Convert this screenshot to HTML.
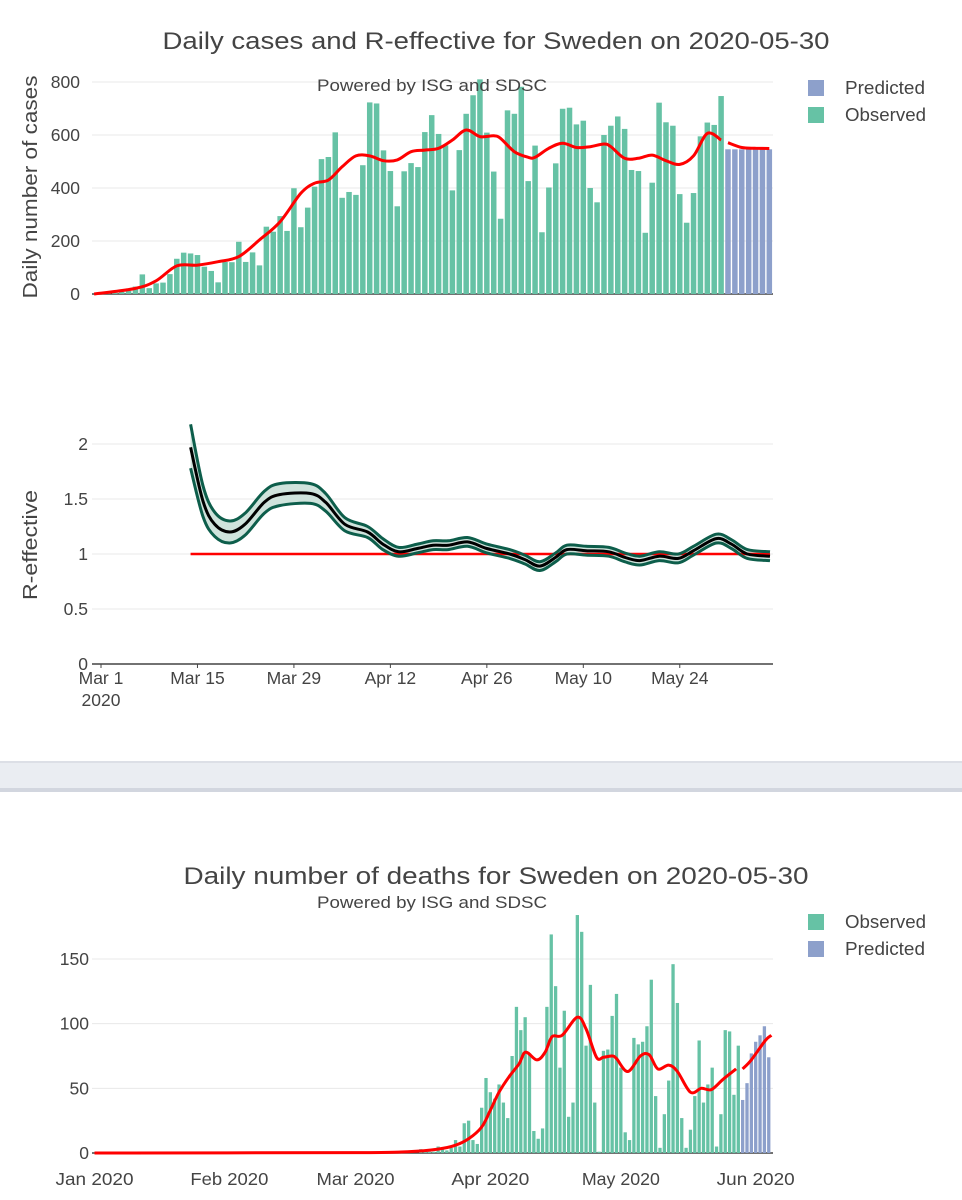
<!DOCTYPE html>
<html><head><meta charset="utf-8"><style>
html,body{margin:0;padding:0;background:#fff;}
svg{display:block;font-family:"Liberation Sans",sans-serif;}
</style></head><body>
<svg id="root" width="962" height="1200" viewBox="0 0 962 1200">
<g id="g-cases"></g>
<g id="g-r"></g>
<g>
<rect x="0" y="761" width="962" height="31" fill="#eaedf2"/>
<rect x="0" y="761" width="962" height="2" fill="#dcdfe6"/>
<rect x="0" y="788" width="962" height="4" fill="#d2d6df"/>
</g>
<g id="g-deaths"></g>
</svg>
<script>
// ---- Cases chart data (day index 0 = 2020-03-01) ----
const caseObserved = [1,2,5,8,12,28,74,22,40,43,75,133,156,153,147,103,87,44,121,120,197,121,157,108,254,235,294,238,399,252,326,405,509,517,610,363,385,374,486,723,719,542,464,331,463,494,479,611,675,604,561,391,543,680,750,810,609,462,284,693,680,782,426,560,233,402,493,699,703,640,654,400,346,600,635,670,623,468,464,231,420,722,648,635,377,269,381,595,647,638,747];
const casePredicted = [546,546,546,546,546,546,546];
const casePredStart = 91;
const caseLineDays = [-1,5,8,11,14,17,20,23,26,29,31,33,35,37,39,41,43,45,47,49,51,53,55,57,58,60,62,63,65,67,69,71,73,74,76,78,80,82,84,86,88,90];
const caseLineVals = [0,21,50,106,109,122,141,204,273,380,418,430,480,521,521,503,506,537,543,550,581,619,594,597,587,537,516,516,550,569,553,556,566,556,512,512,524,503,489,521,606,581];
const casePredLineDays = [91,93,95,97];
const casePredLineVals = [571,553,550,549];
const caseYTicks = [0,200,400,600,800];
// ---- R-effective data ----
const rDays = [13,14.8,16.5,18.7,20.9,23.7,25.9,30.4,32.6,35.4,38.7,40.9,43.2,45.9,48.2,50.4,53.2,56,59.3,61.5,63.7,66,67.6,70.4,73.7,76,78.2,81,83.8,86,89.3,91.5,93.8,97.1];
const rMean = [1.97,1.48,1.27,1.20,1.27,1.47,1.54,1.55,1.47,1.27,1.20,1.09,1.02,1.05,1.08,1.08,1.11,1.05,1.0,0.95,0.89,0.97,1.04,1.03,1.02,0.97,0.94,0.98,0.96,1.03,1.14,1.09,1.0,0.98];
const rHalfWidth = [0.19,0.14,0.11,0.1,0.1,0.1,0.1,0.09,0.08,0.06,0.05,0.05,0.04,0.04,0.04,0.04,0.04,0.04,0.04,0.04,0.04,0.04,0.04,0.04,0.04,0.04,0.04,0.04,0.04,0.04,0.04,0.04,0.04,0.04];
const rYTicks = [0,0.5,1,1.5,2];
const rXTickDays = [0,14,28,42,56,70,84];
const rXTickLabels = ["Mar 1","Mar 15","Mar 29","Apr 12","Apr 26","May 10","May 24"];
// ---- Deaths data (day index 0 = 2020-01-01) ----
const deathStart = 75;
const deathObserved = [3,1,1,1,5,3,2,4,10,5,23,25,10,7,35,58,47,42,53,39,27,75,113,95,105,77,17,11,19,113,169,129,66,110,28,39,184,171,83,130,39,1,79,80,106,123,66,16,10,89,84,86,98,134,44,4,30,56,146,116,27,4,18,44,87,39,53,66,5,30,95,94,45,83];
const deathPredStart = 149;
const deathPredicted = [41,54,77,86,91,98,74];
const deathLineDays = [0,60,72,79,83,86,89,91,93,95.3,97.6,99.1,101.7,103.6,105.2,107.5,111,113,115.4,117,119,120,122.6,125.5,127.5,129.5,132,134,137,139.5,141.8,144.5,147.5];
const deathLineVals = [0,0.3,1,3,6,11,20,33,47,59,69,78,72,78,90,91,105,96,74,74,75,73,63,75,76,65,68,63,47,50,49,57,65];
const deathPredLineDays = [149,151,154.2,155.6];
const deathPredLineVals = [65,72,87,91];
const deathYTicks = [0,50,100,150];
const deathXTickDays = [0,31,60,91,121,152];
const deathXTickLabels = ["Jan 2020","Feb 2020","Mar 2020","Apr 2020","May 2020","Jun 2020"];

const NS = "http://www.w3.org/2000/svg";
const GREEN = "#66c2a5", BLUE = "#8da0cb", TXT = "#444";
const TICK = "17.5", LEG = "18.5";
function mk(parent, tag, attrs, text){
  const e = document.createElementNS(NS, tag);
  for (const k in attrs) e.setAttribute(k, attrs[k]);
  if (text !== undefined) e.textContent = text;
  parent.appendChild(e);
  return e;
}
function spline(pts){
  if (pts.length < 2) return "";
  let d = "M" + pts[0][0].toFixed(1) + "," + pts[0][1].toFixed(1);
  for (let i = 0; i < pts.length - 1; i++){
    const p0 = pts[i-1] || pts[i], p1 = pts[i], p2 = pts[i+1], p3 = pts[i+2] || p2;
    const c1x = p1[0] + (p2[0]-p0[0])/6, c1y = p1[1] + (p2[1]-p0[1])/6;
    const c2x = p2[0] - (p3[0]-p1[0])/6, c2y = p2[1] - (p3[1]-p1[1])/6;
    d += " C" + c1x.toFixed(1)+","+c1y.toFixed(1)+" "+c2x.toFixed(1)+","+c2y.toFixed(1)+" "+p2[0].toFixed(1)+","+p2[1].toFixed(1);
  }
  return d;
}

// ================= Cases chart =================
(function(){
  const g = document.getElementById("g-cases");
  const x = d => 101 + 6.89*d;
  const y = v => 294 - v*(212/800);
  let t;
  t = mk(g,"text",{x:496,y:49,"text-anchor":"middle","font-size":"24",fill:TXT,textLength:667,lengthAdjust:"spacingAndGlyphs"});
  t.textContent = "Daily cases and R-effective for Sweden on 2020-05-30";
  
  
  caseYTicks.forEach(v=>{
    const l = mk(g,"line",{x1:92,x2:773,y1:y(v),y2:y(v),stroke:v===0?"#444":"#e8e8e8","stroke-width":v===0?1.5:1});
    
    
    const tl = mk(g,"text",{x:80,y:y(v)+6,"text-anchor":"end","font-size":TICK,fill:TXT},String(v));
    
    
  });
  t = mk(g,"text",{x:0,y:0,transform:"translate(37,187) rotate(-90)","text-anchor":"middle","font-size":"20",fill:TXT,textLength:223,lengthAdjust:"spacingAndGlyphs"},"Daily number of cases");
  
  
  const bw = 5.5;
  caseObserved.forEach((v,i)=>{
    const r = mk(g,"rect",{x:x(i)-bw/2,y:y(v),width:bw,height:294-y(v),fill:GREEN});
    
    
  });
  casePredicted.forEach((v,i)=>{
    const r = mk(g,"rect",{x:x(casePredStart+i)-bw/2,y:y(v),width:bw,height:294-y(v),fill:BLUE});
    
    
  });
  const p1 = mk(g,"path",{d:spline(caseLineDays.map((d,i)=>[Math.max(92,x(d)),y(caseLineVals[i])])),fill:"none",stroke:"#ff0000","stroke-width":3,"stroke-linejoin":"round"});
  
  
  const p2 = mk(g,"path",{d:spline(casePredLineDays.map((d,i)=>[x(d),y(casePredLineVals[i])])),fill:"none",stroke:"#ff0000","stroke-width":3});
  
  
  t = mk(g,"text",{x:432,y:91,"text-anchor":"middle","font-size":"17",fill:TXT,textLength:230,lengthAdjust:"spacingAndGlyphs"},"Powered by ISG and SDSC");
  
  
  [["Predicted",BLUE,88,80],["Observed",GREEN,115,81]].forEach(([lab,c,yy,w])=>{
    const lg = mk(g,"g",{});
    
    
    mk(lg,"rect",{x:808,y:yy-8,width:16,height:16,fill:c});
    mk(lg,"text",{x:845,y:yy+6,"font-size":LEG,fill:TXT,textLength:w,lengthAdjust:"spacingAndGlyphs"},lab);
  });
})();

// ================= R-effective chart =================
(function(){
  const g = document.getElementById("g-r");
  const x = d => 101 + 6.89*d;
  const y = v => 664 - v*110;
  rYTicks.forEach(v=>{
    if (v>0){
      const l = mk(g,"line",{x1:92,x2:773,y1:y(v),y2:y(v),stroke:"#e8e8e8","stroke-width":1});
      
      
    }
    const tl = mk(g,"text",{x:88,y:y(v)+6,"text-anchor":"end","font-size":TICK,fill:TXT},String(v));
    
    
  });
  const ax = mk(g,"line",{x1:92,x2:773,y1:664,y2:664,stroke:"#444","stroke-width":1.5});
  
  
  rXTickDays.forEach((d,i)=>{
    const tl = mk(g,"text",{x:x(d),y:684,"text-anchor":"middle","font-size":TICK,fill:TXT},rXTickLabels[i]);
    
    
    const tk = mk(g,"line",{x1:x(d),x2:x(d),y1:664,y2:668,stroke:"#444"});
    
    
  });
  let t = mk(g,"text",{x:x(0),y:706,"text-anchor":"middle","font-size":TICK,fill:TXT},"2020");
  
  
  t = mk(g,"text",{x:0,y:0,transform:"translate(37,545) rotate(-90)","text-anchor":"middle","font-size":"20",fill:TXT,textLength:110,lengthAdjust:"spacingAndGlyphs"},"R-effective");
  
  
  const up = rDays.map((d,i)=>[x(d),y(rMean[i]+rHalfWidth[i]*(i===0?1.1:1))]);
  const lo = rDays.map((d,i)=>[x(d),y(rMean[i]-rHalfWidth[i])]);
  const loRev = lo.slice().reverse();
  const band = mk(g,"path",{d:spline(up)+" L"+loRev[0][0]+","+loRev[0][1]+" "+spline(loRev).slice(1).replace(/^[^C]*/,"")+" Z",fill:"#cfe3dc",stroke:"none"});
  
  
  const ref = mk(g,"line",{x1:x(rDays[0]),x2:x(rDays[rDays.length-1]),y1:y(1),y2:y(1),stroke:"#ff0000","stroke-width":2.5});
  
  
  const u = mk(g,"path",{d:spline(up),fill:"none",stroke:"#0d5e4b","stroke-width":3});
  
  
  const l = mk(g,"path",{d:spline(lo),fill:"none",stroke:"#0d5e4b","stroke-width":3});
  
  
  const m = mk(g,"path",{d:spline(rDays.map((d,i)=>[x(d),y(rMean[i])])),fill:"none",stroke:"#000","stroke-width":3});
  
  
})();

// ================= Deaths chart =================
(function(){
  const g = document.getElementById("g-deaths");
  const x = d => 94.5 + 4.35*d;
  const y = v => 1153 - v*(194/150);
  let t = mk(g,"text",{x:496,y:884,"text-anchor":"middle","font-size":"24",fill:TXT,textLength:625,lengthAdjust:"spacingAndGlyphs"},"Daily number of deaths for Sweden on 2020-05-30");
  
  
  t = mk(g,"text",{x:432,y:908,"text-anchor":"middle","font-size":"17",fill:TXT,textLength:230,lengthAdjust:"spacingAndGlyphs"},"Powered by ISG and SDSC");
  
  
  deathYTicks.forEach(v=>{
    const l = mk(g,"line",{x1:92,x2:773,y1:y(v),y2:y(v),stroke:v===0?"#444":"#e8e8e8","stroke-width":v===0?1.5:1});
    
    
    const tl = mk(g,"text",{x:89,y:y(v)+6,"text-anchor":"end","font-size":TICK,fill:TXT},String(v));
    
    
  });
  deathXTickDays.forEach((d,i)=>{
    const tl = mk(g,"text",{x:x(d),y:1185,"text-anchor":"middle","font-size":TICK,fill:TXT,textLength:78,lengthAdjust:"spacingAndGlyphs"},deathXTickLabels[i]);
    
    
  });
  const bw = 3.3;
  deathObserved.forEach((v,i)=>{
    const r = mk(g,"rect",{x:x(deathStart+i)-bw/2,y:y(v),width:bw,height:1153-y(v),fill:GREEN});
    
    
  });
  deathPredicted.forEach((v,i)=>{
    const r = mk(g,"rect",{x:x(deathPredStart+i)-bw/2,y:y(v),width:bw,height:1153-y(v),fill:BLUE});
    
    
  });
  const p1 = mk(g,"path",{d:spline(deathLineDays.map((d,i)=>[Math.max(92,x(d)),y(deathLineVals[i])])),fill:"none",stroke:"#ff0000","stroke-width":3});
  
  
  const p2 = mk(g,"path",{d:spline(deathPredLineDays.map((d,i)=>[x(d),y(deathPredLineVals[i])])),fill:"none",stroke:"#ff0000","stroke-width":3});
  
  
  [["Observed",GREEN,922,81],["Predicted",BLUE,949,80]].forEach(([lab,c,yy,w])=>{
    const lg = mk(g,"g",{});
    
    
    mk(lg,"rect",{x:808,y:yy-8,width:16,height:16,fill:c});
    mk(lg,"text",{x:845,y:yy+6,"font-size":LEG,fill:TXT,textLength:w,lengthAdjust:"spacingAndGlyphs"},lab);
  });
})();
</script>
</body></html>
